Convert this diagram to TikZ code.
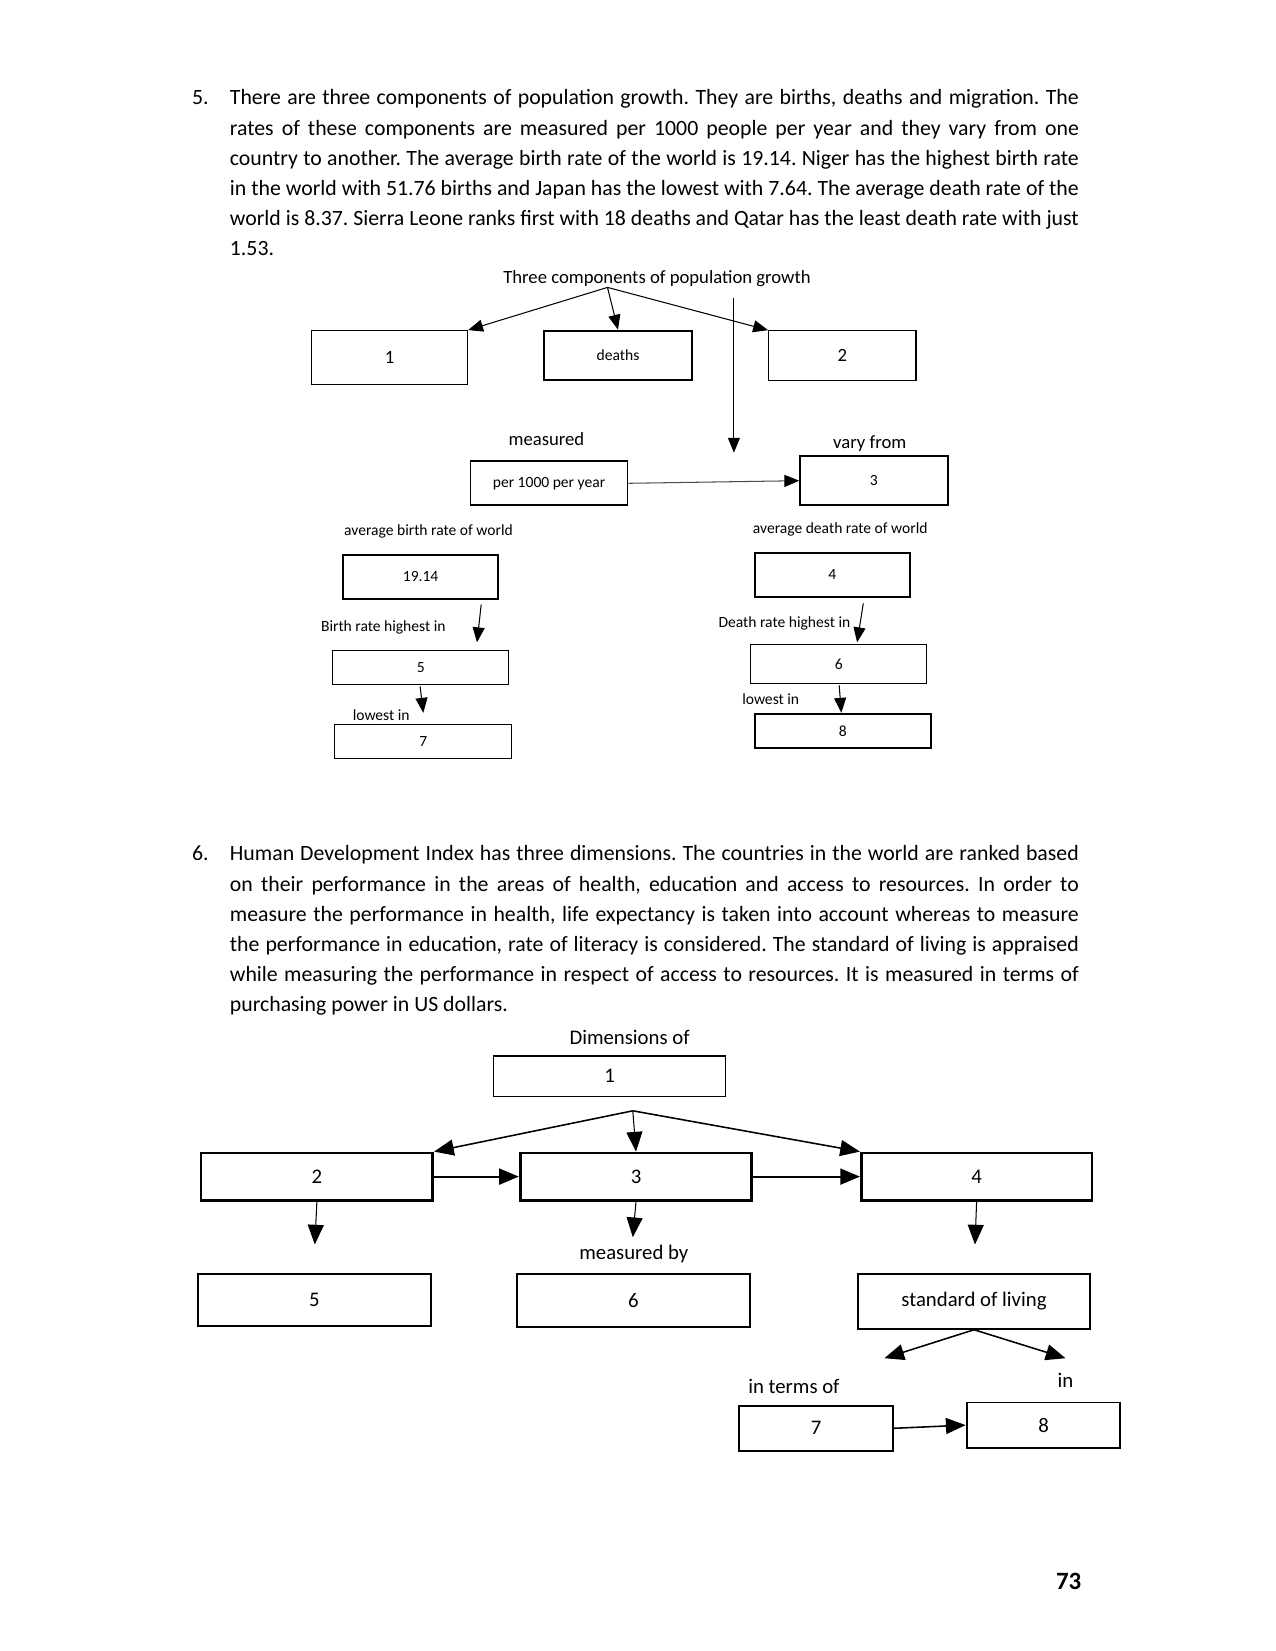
\documentclass[tikz,border=0pt]{standalone}
\usepackage{fontspec}
\setmainfont{Carlito}
\usetikzlibrary{arrows.meta}
\frenchspacing
\tikzset{
  para/.style={anchor=north west, inner sep=0pt, text width=409pt, align=justify,
               font=\fontsize{10.5}{14.5}\selectfont},
  qnum/.style={anchor=north west, inner sep=0pt, font=\fontsize{10.5}{14.5}\selectfont},
  box/.style={rectangle, draw, line width=0.5pt, inner sep=0pt,
              font=\fontsize{7.5}{9}\selectfont},
  heavybox/.style={box, line width=0.9pt},
  dbox/.style={rectangle, draw, line width=0.9pt, inner sep=0pt,
               font=\fontsize{10}{12}\selectfont},
  boldbox/.style={dbox, line width=1.3pt},
  small/.style={inner sep=0pt, font=\fontsize{7.5}{9}\selectfont},
  lbl/.style={inner sep=0pt, font=\fontsize{9}{11}\selectfont},
  dlbl/.style={inner sep=0pt, font=\fontsize{10}{12}\selectfont},
  arr/.style={-{Triangle[length=7.2pt, width=5.8pt, color=black]}, line width=0.5pt},
  darr/.style={-{Triangle[length=9.5pt, width=7.7pt]}, line width=0.75pt},
  tarr/.style={darr, line width=0.5pt},
}

\begin{document}
\begin{tikzpicture}[x=0.4818pt, y=-0.4818pt]
  \useasboundingbox[fill=white] (0,0) rectangle (1275,1651);

  % question 5
  \node[qnum] (q5num) at (191.6,83.5) {\strut 5.};
  \node[para] (q5text) at (229.5,83.5) {\strut There are three components of population growth. They are births, deaths and migration. The\linebreak
    rates of these components are measured per 1000 people per year and they vary from one\linebreak
    country to another. The average birth rate of the world is 19.14. Niger has the highest birth rate\linebreak
    in the world with 51.76 births and Japan has the lowest with 7.64. The average death rate of the\linebreak
    world is 8.37. Sierra Leone ranks first with 18 deaths and Qatar has the least death rate with just\linebreak
    1.53.};

  \node[lbl] (title) at (657,279) {Three components of population growth};
  \coordinate (tsplit) at (607.5,287.4);
  \node[box, minimum width=75.1pt, minimum height=25.9pt, font=\fontsize{9}{11}\selectfont] (births) at (389.6,357.5) {1};
  \node[heavybox, minimum width=71.1pt, minimum height=23.8pt] (deaths) at (618,355.4) {deaths};
  \node[box, minimum width=71pt, minimum height=23.8pt, font=\fontsize{9}{11}\selectfont] (migr) at (842.3,355.4) {2};
  \coordinate (vtop) at (733.9,298);
  \coordinate (vbot) at (733.9,452.7);

  \node[lbl] (measured) at (546.4,439.1) {measured};
  \node[heavybox, minimum width=75.6pt, minimum height=21.3pt] (per) at (549,483.3) {per 1000 per year};
  \node[lbl] (vary) at (869.7,443.3) {vary from};
  \node[heavybox, minimum width=71pt, minimum height=23.8pt] (vary3) at (873.9,480.7) {3};

  \node[small] (avgb) at (428.5,531.7) {average birth rate of world};
  \node[heavybox, minimum width=74.6pt, minimum height=21.3pt] (brate) at (420.6,577) {19.14};
  \node[small] (avgd) at (840.2,529.6) {average death rate of world};
  \node[heavybox, minimum width=74.6pt, minimum height=21.3pt] (drate) at (832.3,574.9) {4};

  \coordinate (bh1) at (481.2,604.4);
  \coordinate (bh2) at (477,642.3);
  \node[small] (bhigh) at (383.3,627.5) {Birth rate highest in};
  \node[box, minimum width=84.7pt, minimum height=16.2pt] (bmax) at (420.7,667.6) {5};
  \coordinate (bl1) at (420.1,686.5);
  \coordinate (bl2) at (423.3,712.8);
  \node[small] (blow) at (381.2,714.9) {lowest in};
  \node[box, minimum width=85.2pt, minimum height=16.2pt] (bmin) at (423.3,741.3) {7};

  \coordinate (dh1) at (863.3,603.3);
  \coordinate (dh2) at (857.1,642.3);
  \node[small] (dhigh) at (784.4,623.3) {Death rate highest in};
  \node[box, minimum width=84.7pt, minimum height=18.7pt] (dmax) at (838.7,663.9) {6};
  \coordinate (dl1) at (839.2,685.4);
  \coordinate (dl2) at (841.3,712.8);
  \node[small] (dlow) at (770.7,699.1) {lowest in};
  \node[heavybox, minimum width=84.7pt, minimum height=16.2pt] (dmin) at (842.9,730.8) {8};

  \draw[arr] (tsplit) -- (births.north east);
  \draw[arr] (tsplit) -- (deaths.north);
  \draw[arr] (tsplit) -- (migr.north west);
  \draw[arr] (vtop) -- (vbot);
  \draw[arr, draw=gray!60!black] (per.east) -- (vary3.west);
  \draw[arr] (bh1) -- (bh2);
  \draw[arr] (bl1) -- (bl2);
  \draw[arr] (dh1) -- (dh2);
  \draw[arr] (dl1) -- (dl2);

  % question 6
  \node[qnum] (q6num) at (191.6,839.5) {\strut 6.};
  \node[para] (q6text) at (229.5,839.5) {\strut Human Development Index has three dimensions. The countries in the world are ranked based\linebreak
    on their performance in the areas of health, education and access to resources. In order to\linebreak
    measure the performance in health, life expectancy is taken into account whereas to measure\linebreak
    the performance in education, rate of literacy is considered. The standard of living is appraised\linebreak
    while measuring the performance in respect of access to resources. It is measured in terms of\linebreak
    purchasing power in US dollars.};

  \node[dlbl] (dimof) at (629.6,1037.1) {Dimensions of};
  \node[dbox, line width=0.6pt, minimum width=111.6pt, minimum height=19.3pt] (hdi) at (609.6,1076.1) {1};
  \coordinate (dsplit) at (632.8,1110.8);
  \node[boldbox, minimum width=111.6pt, minimum height=22.8pt] (dim2) at (316.9,1176.6) {2};
  \node[boldbox, minimum width=111.6pt, minimum height=22.8pt] (dim3) at (636,1176.6) {3};
  \node[boldbox, minimum width=111.1pt, minimum height=22.8pt] (dim4) at (976.6,1176.6) {4};
  \coordinate (down2) at (314.8,1244.5);
  \coordinate (down3) at (632.8,1237.2);
  \coordinate (down4) at (975,1244.5);
  \node[dlbl] (measby) at (633.8,1254) {measured by};
  \node[dbox, minimum width=112.1pt, minimum height=24.9pt] (ind5) at (314.3,1299.8) {5};
  \node[dbox, minimum width=112.1pt, minimum height=25.4pt] (ind6) at (633.4,1300.4) {6};
  \node[dbox, minimum width=111.6pt, minimum height=26.4pt] (stdliv) at (974,1301.4) {standard of living};
  \coordinate (stdl) at (884.4,1358.2);
  \coordinate (stdr) at (1065.5,1358.2);
  \node[dlbl] (interms) at (793.9,1386.7) {in terms of};
  \node[dlbl] (inlbl) at (1065.5,1380.3) {in};
  \node[dbox, minimum width=74.1pt, minimum height=21.8pt] (ind7) at (816,1428.3) {7};
  \node[dbox, minimum width=74.1pt, minimum height=21.8pt] (ind8) at (1043.5,1425.1) {8};

  \draw[darr] (dsplit) -- (dim2.north east);
  \draw[tarr] (dsplit) -- (dim3.north);
  \draw[darr] (dsplit) -- (dim4.north west);
  \draw[darr, line width=1pt] (dim2.east) -- (dim3.west);
  \draw[darr, line width=1pt] (dim3.east) -- (dim4.west);
  \draw[tarr] (dim2.south) -- (down2);
  \draw[tarr] (dim3.south) -- (down3);
  \draw[tarr] (dim4.south) -- (down4);
  \draw[darr] (stdliv.south) -- (stdl);
  \draw[darr] (stdliv.south) -- (stdr);
  \draw[darr] (ind7.east) -- (ind8.west);

  \node[inner sep=0pt, font=\fontsize{12}{14}\selectfont\bfseries] (pgno) at (1068.7,1581.5) {73};
\end{tikzpicture}
\end{document}
